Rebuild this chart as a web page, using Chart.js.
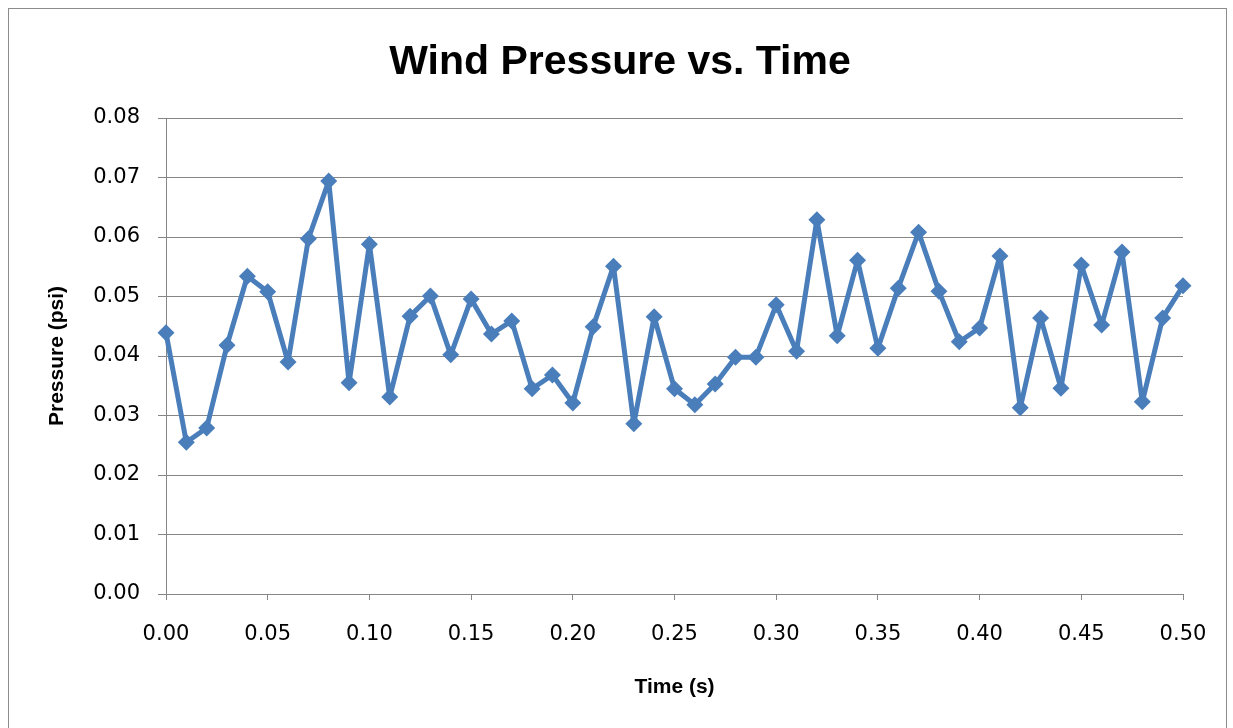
<!DOCTYPE html>
<html lang="en">
<head>
    <meta charset="UTF-8">
    <title>Wind Pressure vs. Time</title>
    <style>
        html, body { margin: 0; padding: 0; background: #fff; }
        .chart_box { position: relative; width: 1233px; height: 728px; overflow: hidden; }
        .frame { position: absolute; left: 8px; top: 8px; width: 1219px; height: 740px; border: 1px solid #8c8c8c; box-sizing: border-box; }
        .chart_box canvas { position: absolute; left: 0; top: 0; }
        .chart_heading {
            position: absolute; left: 0; top: 36px; width: 1240px; margin: 0;
            text-align: center; font: bold 41px/48px "Liberation Sans", Arial, sans-serif; color: #000;
        }
    </style>
</head>
<body>
    <div class="chart_box">
        <div class="frame"></div>
        <canvas id="wind_chart" width="1233" height="728" aria-label="Wind pressure chart" role="img"></canvas>
        <h2 class="chart_heading">Wind Pressure vs. Time</h2>
    </div>

    <script src="https://cdn.jsdelivr.net/npm/chart.js"></script>
    <script>
    // time samples (s) and measured pressure (psi)
    const times = [0.00, 0.01, 0.02, 0.03, 0.04, 0.05, 0.06, 0.07, 0.08, 0.09,
                   0.10, 0.11, 0.12, 0.13, 0.14, 0.15, 0.16, 0.17, 0.18, 0.19,
                   0.20, 0.21, 0.22, 0.23, 0.24, 0.25, 0.26, 0.27, 0.28, 0.29,
                   0.30, 0.31, 0.32, 0.33, 0.34, 0.35, 0.36, 0.37, 0.38, 0.39,
                   0.40, 0.41, 0.42, 0.43, 0.44, 0.45, 0.46, 0.47, 0.48, 0.49, 0.50];
    const pressure = [0.0439, 0.0255, 0.0279, 0.0418, 0.0534, 0.0508, 0.0390, 0.0597, 0.0694, 0.0355,
                      0.0588, 0.0331, 0.0467, 0.0501, 0.0402, 0.0496, 0.0437, 0.0459, 0.0345, 0.0368,
                      0.0321, 0.0449, 0.0551, 0.0286, 0.0466, 0.0345, 0.0318, 0.0353, 0.0398, 0.0398,
                      0.0486, 0.0408, 0.0629, 0.0434, 0.0561, 0.0413, 0.0514, 0.0608, 0.0509, 0.0424,
                      0.0447, 0.0568, 0.0313, 0.0464, 0.0346, 0.0553, 0.0452, 0.0575, 0.0323, 0.0464, 0.0518];

    const blue = '#4a7ebb';
    const gridGray = '#868686';
    const tickFont = '"DejaVu Sans", Verdana, sans-serif';
    const titleFont = '"Liberation Sans", Arial, sans-serif';

    const points = times.map((t, i) => ({ x: t, y: pressure[i] }));

    new Chart(document.getElementById('wind_chart'), {
        type: 'line',
        data: {
            datasets: [{
                label: 'Pressure',
                data: points,
                borderColor: blue,
                backgroundColor: blue,
                borderWidth: 5,
                borderJoinStyle: 'round',
                pointStyle: 'rectRot',
                pointRadius: 8.5,
                pointBorderWidth: 0,
                tension: 0,
                clip: false
            }]
        },
        options: {
            responsive: false,
            animation: false,
            layout: { padding: { left: 0, right: 50, top: 118, bottom: 0 } },
            plugins: {
                legend: { display: false },
                tooltip: { enabled: false },
                title: { display: false }
            },
            scales: {
                x: {
                    type: 'linear',
                    min: 0,
                    max: 0.5,
                    afterFit: (scale) => { scale.height = 134; },
                    ticks: {
                        stepSize: 0.05,
                        autoSkip: false,
                        maxRotation: 0,
                        padding: 22,
                        color: '#000',
                        font: { family: tickFont, size: 21 },
                        callback: (v) => Number(v).toFixed(2)
                    },
                    grid: { drawOnChartArea: false, color: gridGray, tickLength: 6 },
                    border: { color: gridGray, width: 1 },
                    title: {
                        display: true,
                        text: 'Time (s)',
                        color: '#000',
                        font: { family: titleFont, size: 21, weight: 'bold', lineHeight: 1.2 },
                        padding: { top: 0, bottom: 28 }
                    }
                },
                y: {
                    min: 0,
                    max: 0.08,
                    afterFit: (scale) => { scale.width = 166; },
                    ticks: {
                        stepSize: 0.01,
                        padding: 18,
                        color: '#000',
                        font: { family: tickFont, size: 21 },
                        callback: (v) => Number(v).toFixed(2)
                    },
                    grid: { color: gridGray, tickLength: 8 },
                    border: { color: gridGray, width: 1 },
                    title: {
                        display: true,
                        text: 'Pressure (psi)',
                        color: '#000',
                        font: { family: titleFont, size: 21, weight: 'bold', lineHeight: 1.2 },
                        padding: { top: 45, bottom: 0 }
                    }
                }
            }
        }
    });
    </script>
</body>
</html>
